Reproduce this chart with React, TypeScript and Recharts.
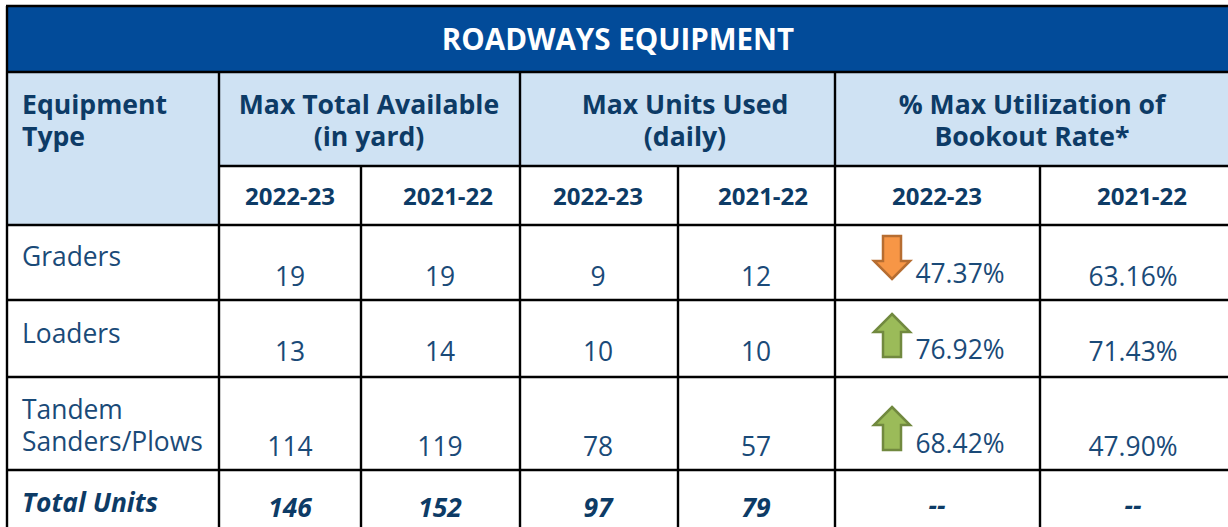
import React from "react";
import { ScatterChart, Scatter, XAxis, YAxis, ReferenceArea, ReferenceLine } from "recharts";

// ---------- content ----------
const title = "ROADWAYS EQUIPMENT";
const headerEquipment = ["Equipment", "Type"];
const headerAvailable = ["Max Total Available", "(in yard)"];
const headerUsed = ["Max Units Used", "(daily)"];
const headerUtil = ["% Max Utilization of", "Bookout Rate*"];
const years = ["2022-23", "2021-22", "2022-23", "2021-22", "2022-23", "2021-22"];
const equipment = [["Graders"], ["Loaders"], ["Tandem", "Sanders/Plows"]];
const available2223 = [19, 13, 114];
const available2122 = [19, 14, 119];
const used2223 = [9, 10, 78];
const used2122 = [12, 10, 57];
const utilization2223 = ["47.37%", "76.92%", "68.42%"];
const utilization2122 = ["63.16%", "71.43%", "47.90%"];
const trends = ["down", "up", "up"];
const totalLabel = "Total Units";
const totals = ["146", "152", "97", "79", "--", "--"];

// ---------- layout ----------
const W = 1228;
const H = 527;
const colEdges = [7, 219, 361, 520, 678, 835, 1040, 1228];
const rowEdges = [6, 72, 166, 225, 300, 377, 470, 527];
const colCenters = [290, 440, 598, 756, 937, 1133];
const yearCenters = [290, 448, 598, 763, 937, 1142];
const headerCenters = [369, 685, 1032];
const valueBaselines = [286, 361, 456];
const utilBaselines = [283, 359, 453];
const arrowTops = [235, 312, 405];
const labelBaselines = [[266], [343], [419, 451]];

const NAVY = "#0d3b66";
const BODY = "#1a4a78";
const FONT = "'Open Sans', sans-serif";

type T = { x: number; y: number; label: string; size: number; weight: number; color: string; anchor: string; italic?: boolean };

const texts: T[] = [];
const add = (x: number, y: number, label: string, size: number, weight: number, color: string, anchor = "middle", italic = false) =>
  texts.push({ x, y, label, size, weight, color, anchor, italic });

add(618, 50, title, 29.5, 700, "#ffffff");
headerEquipment.forEach((s, i) => add(22, 114 + i * 32, s, 26.6, 700, NAVY, "start"));
headerAvailable.forEach((s, i) => add(headerCenters[0], 114 + i * 32, s, 26.6, 700, NAVY));
headerUsed.forEach((s, i) => add(headerCenters[1], 114 + i * 32, s, 26.6, 700, NAVY));
headerUtil.forEach((s, i) => add(headerCenters[2], 114 + i * 32, s, 26.6, 700, NAVY));
years.forEach((s, i) => add(yearCenters[i], 205, s, 24, 700, NAVY));
equipment.forEach((lines, r) => lines.forEach((s, i) => add(22, labelBaselines[r][i], s, 26.4, 400, BODY, "start")));
[available2223, available2122, used2223, used2122].forEach((col, c) =>
  col.forEach((v, r) => add(colCenters[c], valueBaselines[r], String(v), 26.4, 400, BODY))
);
utilization2223.forEach((s, r) => add(960, utilBaselines[r], s, 26.4, 400, BODY));
utilization2122.forEach((s, r) => add(colCenters[5], valueBaselines[r], s, 26.4, 400, BODY));
add(22, 512, totalLabel, 26.4, 700, NAVY, "start", true);
totals.forEach((s, i) => add(colCenters[i], i < 4 ? 517 : 515, s, 26.4, 700, NAVY, "middle", true));

const arrows = trends.map((dir, r) => ({ x: 892, y: arrowTops[r] + 23, dir }));

const TextShape = (p: any) => {
  const d = p.payload as T;
  return (
    <text x={p.cx} y={p.cy} textAnchor={d.anchor} fontFamily={FONT} fontSize={d.size} fontWeight={d.weight}
      fontStyle={d.italic ? "italic" : "normal"} fill={d.color}>
      {d.label}
    </text>
  );
};

const ArrowShape = (p: any) => {
  const up = p.payload.dir === "up";
  const s = up ? 1 : -1;
  const { cx, cy } = p;
  const pts = [[0, -21], [18, -3], [9, -3], [9, 22], [-9, 22], [-9, -3], [-18, -3]]
    .map(([a, b]) => `${cx + a},${cy + s * b}`)
    .join(" ");
  return <polygon points={pts} fill={up ? "#9bbb59" : "#f79646"} stroke={up ? "#71893f" : "#b66d31"} strokeWidth={2.5} />;
};

const hLines = [
  { y: rowEdges[0], x1: 6, x2: W },
  { y: rowEdges[1], x1: colEdges[0], x2: W },
  { y: rowEdges[2], x1: colEdges[1], x2: W },
  { y: rowEdges[3], x1: colEdges[0], x2: W },
  { y: rowEdges[4], x1: colEdges[0], x2: W },
  { y: rowEdges[5], x1: colEdges[0], x2: W },
  { y: rowEdges[6], x1: colEdges[0], x2: W },
];
const vLines = [
  { x: colEdges[0], y1: rowEdges[0], y2: H },
  { x: colEdges[1], y1: rowEdges[1], y2: H },
  { x: colEdges[2], y1: rowEdges[2], y2: H },
  { x: colEdges[3], y1: rowEdges[1], y2: H },
  { x: colEdges[4], y1: rowEdges[2], y2: H },
  { x: colEdges[5], y1: rowEdges[1], y2: H },
  { x: colEdges[6], y1: rowEdges[2], y2: H },
];

export default function App() {
  return (
    <div style={{ position: "absolute", left: 0, top: 0, width: W, height: H, background: "#fff" }}>
      <ScatterChart width={W} height={H} margin={{ top: 0, right: 0, bottom: 0, left: 0 }}>
        <XAxis type="number" dataKey="x" domain={[0, W]} hide allowDataOverflow />
        <YAxis type="number" dataKey="y" domain={[0, H]} reversed hide allowDataOverflow />
        <ReferenceArea x1={colEdges[0]} x2={W} y1={rowEdges[0]} y2={rowEdges[1]} fill="#024b99" fillOpacity={1} stroke="none" />
        <ReferenceArea x1={colEdges[0]} x2={W} y1={rowEdges[1]} y2={rowEdges[2]} fill="#cfe2f3" fillOpacity={1} stroke="none" />
        <ReferenceArea x1={colEdges[0]} x2={colEdges[1]} y1={rowEdges[2]} y2={rowEdges[3]} fill="#cfe2f3" fillOpacity={1} stroke="none" />
        {hLines.map((l, i) => (
          <ReferenceLine key={`h${i}`} segment={[{ x: l.x1, y: l.y }, { x: l.x2, y: l.y }]} stroke="#000" strokeWidth={2.4} />
        ))}
        {vLines.map((l, i) => (
          <ReferenceLine key={`v${i}`} segment={[{ x: l.x, y: l.y1 }, { x: l.x, y: l.y2 }]} stroke="#000" strokeWidth={2.4} />
        ))}
        <Scatter data={arrows} shape={ArrowShape} isAnimationActive={false} />
        <Scatter data={texts} shape={TextShape} isAnimationActive={false} />
      </ScatterChart>
    </div>
  );
}
